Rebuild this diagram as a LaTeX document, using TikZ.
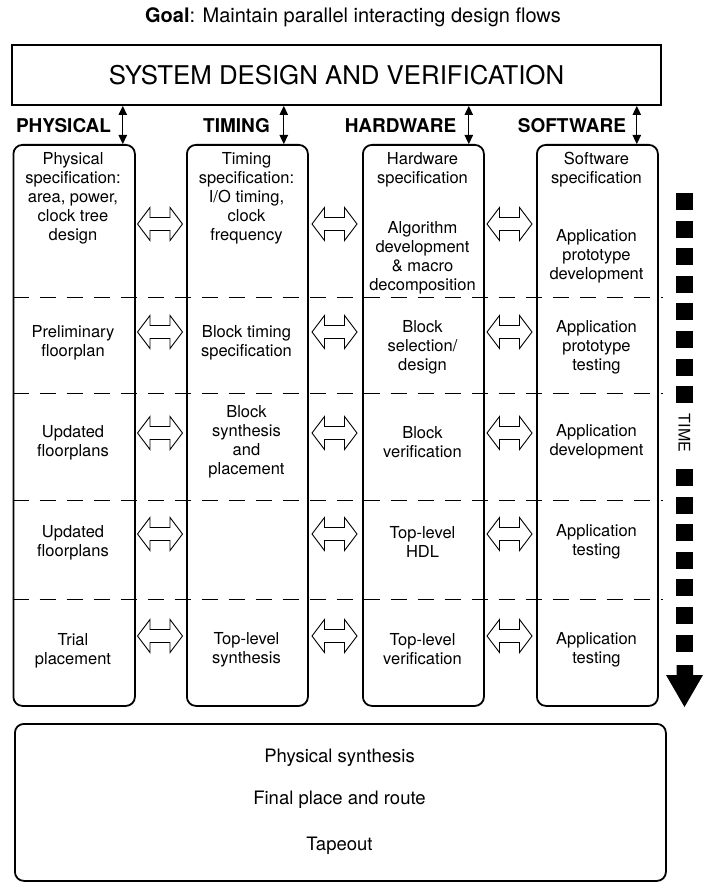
\documentclass[tikz,border=0pt]{standalone}
\usepackage{fontspec}
\setmainfont{TeX Gyre Heros}
\usetikzlibrary{arrows.meta}
\begin{document}
\begin{tikzpicture}[x=1pt,y=-1pt,
  sysframe/.style={draw, line width=2pt, inner sep=0pt},
  colbox/.style={draw, line width=1.8pt, rounded corners=9pt, inner sep=0pt, anchor=north west},
  cell/.style={align=center, font=\fontsize{16.5}{19}\selectfont, inner sep=0pt},
  stepline/.style={inner sep=0pt, font=\fontsize{18.5}{20}\selectfont},
  flowlabel/.style={font=\bfseries\fontsize{19}{20}\selectfont, inner sep=0pt},
  rowsep/.style={line width=0.9pt, dash pattern=on 16pt off 11pt},
  vlink/.style={line width=1.2pt, {Triangle[length=9pt,width=8.5pt]}-{Triangle[length=9pt,width=8.5pt]}},
  hollow/.pic={\draw[line width=0.9pt, fill=white, line join=miter]
    (-22.5,0) -- (-10,-16.5) -- (-10,-6.5) -- (10,-6.5) -- (10,-16.5) -- (22.5,0)
    -- (10,16.5) -- (10,6.5) -- (-10,6.5) -- (-10,16.5) -- cycle;}
  ]
\useasboundingbox (0,0) rectangle (707,893);

% heading
\node[inner sep=0pt, font=\fontsize{20}{22}\selectfont] (goal) at (353,17)
  {\textbf{Goal}: Maintain parallel interacting design flows};

% system level box
\node[sysframe, minimum width=649pt, minimum height=60pt] (sysbox) at (336.5,75)
  {\fontsize{25.8}{28}\selectfont SYSTEM DESIGN AND VERIFICATION};

% flow columns
\node[colbox, minimum width=121.5pt, minimum height=561pt] (physcol) at (12.5,144) {};
\node[colbox, minimum width=121pt, minimum height=561pt] (timecol) at (186,144) {};
\node[colbox, minimum width=121pt, minimum height=561pt] (hwcol) at (362,144) {};
\node[colbox, minimum width=121pt, minimum height=561pt] (swcol) at (536,144) {};

% column headings
\node[flowlabel] (physlab) at (63.5,126) {PHYSICAL};
\node[flowlabel] (timelab) at (236.5,126) {TIMING};
\node[flowlabel] (hwlab) at (400.5,126) {HARDWARE};
\node[flowlabel] (swlab) at (572,126) {SOFTWARE};

% links between system box and columns
\draw[vlink] ([xshift=-13pt]physcol.north east |- sysbox.south) -- ([xshift=-13pt]physcol.north east);
\draw[vlink] ([xshift=-25pt]timecol.north east |- sysbox.south) -- ([xshift=-25pt]timecol.north east);
\draw[vlink] ([xshift=-16pt]hwcol.north east |- sysbox.south) -- ([xshift=-16pt]hwcol.north east);
\draw[vlink] ([xshift=-22pt]swcol.north east |- sysbox.south) -- ([xshift=-22pt]swcol.north east);

% phase separators
\foreach \yy in {297,393,500,599}
  \draw[rowsep] (12.5,\yy) -- (663,\yy);

% physical flow
\node[cell] (p1) at (73,198) {Physical\\specification:\\area, power,\\clock tree\\design};
\node[cell] (p2) at (73,343) {Preliminary\\floorplan};
\node[cell] (p3) at (73,442.5) {Updated\\floorplans};
\node[cell] (p4) at (73,542.5) {Updated\\floorplans};
\node[cell] (p5) at (73,651) {Trial\\placement};

% timing flow
\node[cell] (t1) at (246.5,198) {Timing\\specification:\\I/O timing,\\clock\\frequency};
\node[cell] (t2) at (246.5,343) {Block timing\\specification};
\node[cell] (t3) at (246.5,441.5) {Block\\synthesis\\and\\placement};
\node[cell] (t5) at (246.5,650) {Top-level\\synthesis};

% hardware flow
\node[cell] (h1) at (422.5,169.5) {Hardware\\specification};
\node[cell] (h1b) at (422.5,257.5) {Algorithm\\development\\\& macro\\decomposition};
\node[cell] (h2) at (422.5,347) {Block\\selection/\\design};
\node[cell] (h3) at (422.5,442.5) {Block\\verification};
\node[cell] (h4) at (422.5,541.5) {Top-level\\HDL};
\node[cell] (h5) at (422.5,649.5) {Top-level\\verification};

% software flow
\node[cell] (s1) at (596.5,169.5) {Software\\specification};
\node[cell] (s1b) at (596.5,256) {Application\\prototype\\development};
\node[cell] (s2) at (596.5,347) {Application\\prototype\\testing};
\node[cell] (s3) at (596.5,441.5) {Application\\development};
\node[cell] (s4) at (596.5,541.5) {Application\\testing};
\node[cell] (s5) at (596.5,650) {Application\\testing};

% interactions between neighbouring flows
\foreach \yy in {224,332,433,534,636}{
  \pic at (160,\yy) {hollow};
  \pic at (334.5,\yy) {hollow};
  \pic at (509.5,\yy) {hollow};
}

% time axis
\foreach \k in {0,1,2,3,4,5,6,7,10,11,12,13,14,15,16}
  \fill (676,193+27.6*\k) rectangle +(17,17);
\fill (676.5,665) -- (693,665) -- (693,675) -- (703,675) -- (684.5,707)
  -- (666,675) -- (676.5,675) -- cycle;
\node[rotate=-90, inner sep=0pt, font=\fontsize{16}{18}\selectfont] (time) at (684.5,433) {TIME};

% back-end steps
\node[colbox, minimum width=651pt, minimum height=157pt] (backend) at (14,723) {};
\node[stepline] (b1) at (339.5,758) {Physical synthesis};
\node[stepline] (b2) at (339.5,800) {Final place and route};
\node[stepline] (b3) at (339.5,846) {Tapeout};
\end{tikzpicture}
\end{document}
